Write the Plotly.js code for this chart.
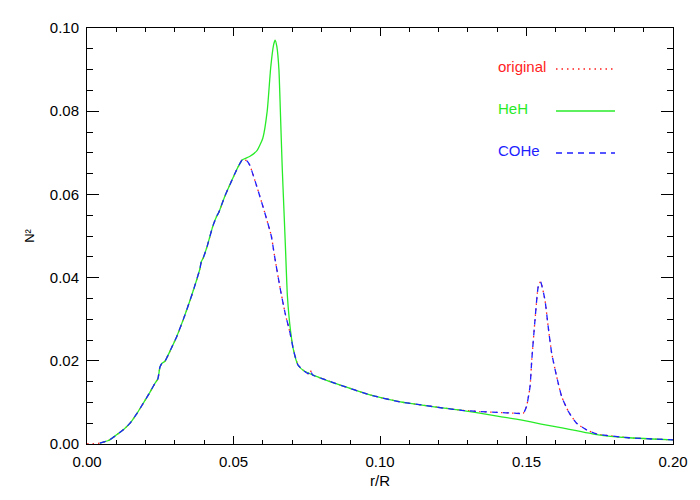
<!DOCTYPE html>
<html>
<head>
<meta charset="utf-8">
<script src="https://cdn.plot.ly/plotly-3.0.1.min.js"></script>
<style>html,body{margin:0;padding:0;background:#fff;}#plot{width:700px;height:500px;}</style>
</head>
<body>
<div id="plot"></div>
<script>
// shared inner part (all three models coincide)
var rCommon = [0.0044, 0.0075, 0.0101, 0.0125, 0.0147, 0.017, 0.0192, 0.0212, 0.0232, 0.0242, 0.0249, 0.0256, 0.0266, 0.0285, 0.0306, 0.033, 0.0352, 0.037, 0.0385, 0.039, 0.0397, 0.041, 0.043, 0.0443, 0.045, 0.047, 0.049, 0.051, 0.0525, 0.053];
var nCommon = [0.0002, 0.0009, 0.0022, 0.0035, 0.005, 0.0073, 0.0098, 0.0121, 0.0146, 0.0157, 0.0185, 0.0194, 0.0199, 0.0226, 0.0258, 0.0302, 0.0346, 0.0385, 0.042, 0.0438, 0.0448, 0.0475, 0.0525, 0.0548, 0.0557, 0.0595, 0.0627, 0.0658, 0.0678, 0.0683];

// HeH outer part
var rHeH = [0.0555, 0.058, 0.060, 0.0615, 0.0627, 0.0637, 0.0642, 0.0648, 0.0655, 0.066, 0.0666, 0.0672, 0.0678, 0.0684, 0.0695, 0.0705, 0.072, 0.074, 0.077, 0.080, 0.085, 0.0966, 0.107, 0.115, 0.122, 0.128, 0.134, 0.141, 0.148, 0.155, 0.1626, 0.1745, 0.185, 0.193, 0.200];
var nHeH = [0.0691, 0.0705, 0.0735, 0.080, 0.0905, 0.096, 0.0971, 0.0955, 0.090, 0.080, 0.067, 0.0565, 0.046, 0.0355, 0.027, 0.0225, 0.019, 0.0176, 0.0166, 0.0158, 0.0145, 0.0118, 0.0101, 0.0093, 0.0086, 0.0081, 0.0074, 0.0066, 0.0058, 0.0048, 0.0038, 0.0022, 0.0015, 0.0012, 0.0010];

// COHe outer part
var rCOHe = [0.0545, 0.0555, 0.058, 0.0605, 0.0629, 0.064, 0.0659, 0.0676, 0.0693, 0.0705, 0.072, 0.074, 0.0755, 0.0762, 0.077, 0.080, 0.085, 0.0966, 0.107, 0.115, 0.122, 0.128, 0.134, 0.140, 0.146, 0.1489, 0.150, 0.1512, 0.1518, 0.1529, 0.154, 0.1548, 0.1563, 0.1574, 0.1586, 0.1603, 0.162, 0.1643, 0.1671, 0.1705, 0.174, 0.185, 0.193, 0.200];
var nCOHe = [0.0681, 0.0671, 0.0618, 0.0560, 0.0500, 0.0452, 0.0375, 0.0315, 0.0267, 0.0225, 0.019, 0.0176, 0.0169, 0.0177, 0.0166, 0.0158, 0.0145, 0.0118, 0.0101, 0.0093, 0.0086, 0.0081, 0.0078, 0.0076, 0.0074, 0.0074, 0.009, 0.0138, 0.0202, 0.0298, 0.0378, 0.039, 0.0346, 0.0282, 0.0218, 0.0162, 0.0114, 0.0078, 0.005, 0.0034, 0.0024, 0.0015, 0.0012, 0.0010];

// original model starts at the centre
var rOrigStart = [0.0, 0.002];
var nOrigStart = [0.0, 0.0001];

var legendNames = ['original', 'HeH', 'COHe'];
var colors = ['rgb(255,30,30)', 'rgb(40,235,40)', 'rgb(30,30,255)'];

var xOrig = rOrigStart.concat(rCommon, rCOHe);
var yOrig = nOrigStart.concat(nCommon, nCOHe);
var xHeH = rCommon.concat(rHeH);
var yHeH = nCommon.concat(nHeH);
var xCOHe = rCommon.concat(rCOHe);
var yCOHe = nCommon.concat(nCOHe);

var traces = [
  {x: xOrig, y: yOrig, mode: 'lines', name: legendNames[0], line: {color: colors[0], width: 1.3, dash: '1.5px,4px', shape: 'spline', smoothing: 0.5}},
  {x: xHeH, y: yHeH, mode: 'lines', name: legendNames[1], line: {color: colors[1], width: 1.3, shape: 'spline', smoothing: 0.5}},
  {x: xCOHe, y: yCOHe, mode: 'lines', name: legendNames[2], line: {color: colors[2], width: 1.3, dash: '6px,5px', shape: 'spline', smoothing: 0.5}}
];

var L = 87, R = 673, T = 28, B = 444;
function px(x) { return (x - L) / (R - L); }
function py(y) { return (B - y) / (B - T); }

var legY = [66, 108, 150];
var legDash = ['1.5px,4px', 'solid', '6px,5px'];
var annotations = [];
var shapes = [];
for (var i = 0; i < 3; i++) {
  annotations.push({xref: 'paper', yref: 'paper', x: px(496), y: py(legY[i]), xanchor: 'left', yanchor: 'middle',
    text: legendNames[i], showarrow: false, font: {family: 'Liberation Sans, Arial, sans-serif', size: 15, color: colors[i]}});
  shapes.push({type: 'line', xref: 'paper', yref: 'paper', x0: px(556), x1: px(615), y0: py(legY[i] + 3), y1: py(legY[i] + 3),
    line: {color: colors[i], width: 1.3, dash: legDash[i]}});
}

var font = {family: 'Liberation Sans, Arial, sans-serif', size: 15, color: '#000'};

var layout = {
  width: 700, height: 500,
  margin: {l: L, r: 700 - R, t: T, b: 500 - B},
  paper_bgcolor: '#fff', plot_bgcolor: '#fff',
  showlegend: false,
  font: font,
  xaxis: {
    range: [0, 0.2], dtick: 0.05, tickformat: '.2f', ticks: 'inside', ticklen: 8, tickwidth: 1, tickcolor: '#000',
    showline: true, linecolor: '#000', linewidth: 1, mirror: 'allticks', showgrid: false, zeroline: false,
    minor: {dtick: 0.01, ticks: 'inside', ticklen: 4, tickcolor: '#000', tickwidth: 1, showgrid: false},
    tickfont: font, ticklabelstandoff: 4,
    title: {text: 'r/R', font: font, standoff: 6}
  },
  yaxis: {
    range: [0, 0.1], dtick: 0.02, tickformat: '.2f', ticks: 'inside', ticklen: 12, tickwidth: 1, tickcolor: '#000',
    showline: true, linecolor: '#000', linewidth: 1, mirror: 'allticks', showgrid: false, zeroline: false,
    minor: {dtick: 0.005, ticks: 'inside', ticklen: 6, tickcolor: '#000', tickwidth: 1, showgrid: false},
    tickfont: font, ticklabelstandoff: 4,
    title: {text: 'N²', font: {family: font.family, size: 13, color: '#000'}, standoff: 12}
  },
  annotations: annotations,
  shapes: shapes
};

Plotly.newPlot('plot', traces, layout, {displayModeBar: false, staticPlot: true});
</script>
</body>
</html>
